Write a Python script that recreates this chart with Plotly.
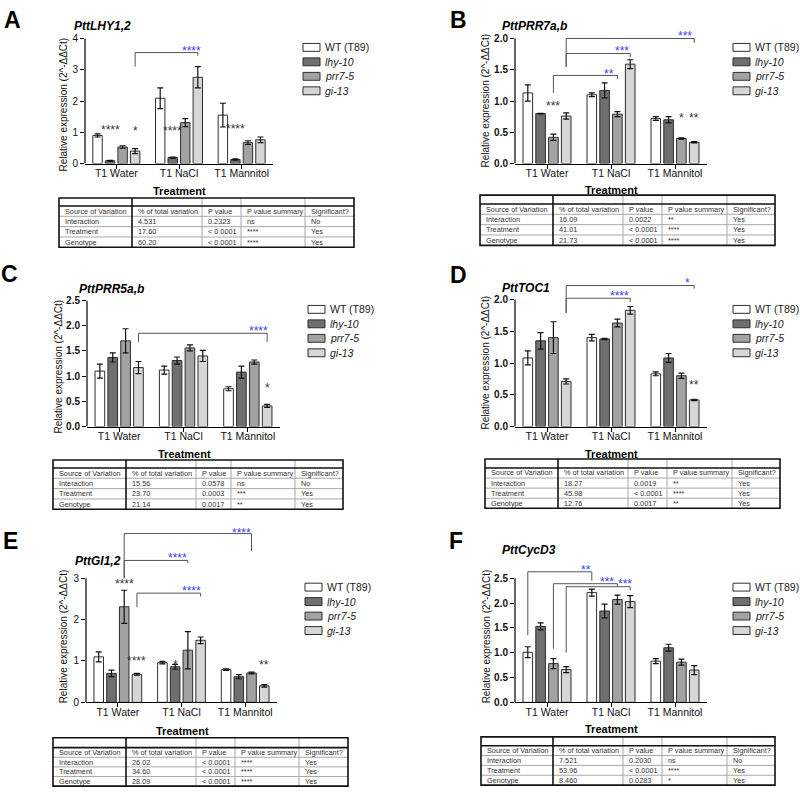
import plotly.graph_objects as go

# ---------------- data ----------------
categories = ["T1 Water", "T1 NaCl", "T1 Mannitol"]
genotypes = ["WT (T89)", "lhy-10", "prr7-5", "gi-13"]
genotype_italic = [False, True, True, True]

# rows = genotypes (WT, lhy-10, prr7-5, gi-13), columns = treatments
A_mean = [[0.90, 2.09, 1.55], [0.09, 0.19, 0.13], [0.53, 1.31, 0.67], [0.40, 2.76, 0.76]]
A_err = [[0.05, 0.33, 0.38], [0.01, 0.02, 0.02], [0.04, 0.13, 0.06], [0.08, 0.34, 0.09]]
B_mean = [[1.13, 1.10, 0.72], [0.80, 1.17, 0.70], [0.42, 0.79, 0.40], [0.76, 1.59, 0.34]]
B_err = [[0.13, 0.03, 0.03], [0.005, 0.12, 0.05], [0.05, 0.04, 0.01], [0.05, 0.07, 0.01]]
C_mean = [[1.10, 1.12, 0.75], [1.37, 1.31, 1.08], [1.70, 1.56, 1.28], [1.17, 1.40, 0.41]]
C_err = [[0.14, 0.08, 0.04], [0.09, 0.07, 0.12], [0.24, 0.06, 0.04], [0.12, 0.11, 0.03]]
D_mean = [[1.08, 1.40, 0.83], [1.35, 1.38, 1.08], [1.40, 1.63, 0.80], [0.71, 1.83, 0.42]]
D_err = [[0.11, 0.05, 0.03], [0.13, 0.01, 0.07], [0.25, 0.06, 0.04], [0.04, 0.06, 0.01]]
E_mean = [[1.10, 0.96, 0.79], [0.70, 0.86, 0.62], [2.31, 1.26, 0.71], [0.68, 1.50, 0.40]]
E_err = [[0.12, 0.03, 0.02], [0.08, 0.06, 0.05], [0.40, 0.45, 0.02], [0.02, 0.08, 0.03]]
F_mean = [[1.01, 2.21, 0.83], [1.53, 1.84, 1.10], [0.78, 2.07, 0.81], [0.66, 2.03, 0.65]]
F_err = [[0.11, 0.07, 0.05], [0.07, 0.14, 0.07], [0.10, 0.09, 0.06], [0.06, 0.12, 0.09]]

gene_titles = ["PttLHY1,2", "PttPRR7a,b", "PttPRR5a,b", "PttTOC1", "PttGI1,2", "PttCycD3"]
panel_letters = ["A", "B", "C", "D", "E", "F"]

# black stars: (treatment index, genotype index, y, text)
A_stars = [(0, 1, 1.14, "****"), (0, 3, 1.10, "*"), (1, 1, 1.10, "****"), (2, 1, 1.18, "****")]
B_stars = [(0, 2, 0.96, "***"), (2, 2, 0.76, "*"), (2, 3, 0.76, "**")]
C_stars = [(2, 3, 0.80, "*")]
D_stars = [(2, 3, 0.68, "**")]
E_stars = [(0, 2, 2.90, "****"), (0, 3, 1.04, "****"), (1, 1, 0.96, "*"), (2, 3, 0.95, "**")]
F_stars = []

# brackets: (x left, x right, y top, y left end, y right end, label, label x, label y)
A_brackets = [(0.3, 1.3, 3.55, 3.10, 3.45, "****", 1.20, 3.68)]
B_brackets = [(0.3, 2.3, 2.00, 1.545, 1.93, "***", 2.16, 2.07),
              (0.3, 1.3, 1.76, 1.545, 1.70, "***", 1.17, 1.83),
              (0.1, 1.1, 1.41, 1.13, 1.35, "**", 0.97, 1.47)]
C_brackets = [(0.3, 2.3, 1.85, 1.68, 1.68, "****", 2.17, 1.94)]
D_brackets = [(0.3, 2.3, 2.22, 1.79, 2.17, "*", 2.19, 2.29),
              (0.3, 1.3, 2.02, 1.79, 1.96, "****", 1.14, 2.08)]
E_brackets = [(0.1, 2.1, 4.08, 3.00, 3.66, "****", 1.95, 4.14),
              (0.1, 1.1, 3.43, 3.00, 3.37, "****", 0.94, 3.54),
              (0.3, 1.3, 2.64, 2.30, 2.56, "****", 1.16, 2.74)]
F_brackets = [(-0.3, 0.7, 2.63, 1.35, 2.45, "**", 0.61, 2.70),
              (0.1, 1.1, 2.39, 1.08, 2.33, "***", 0.94, 2.47),
              (0.3, 1.3, 2.33, 1.00, 2.26, "***", 1.22, 2.42)]

table_header = ["Source of Variation", "% of total variation", "P value", "P value summary", "Significant?"]
A_table = [["Interaction", "4.531", "0.2323", "ns", "No"],
           ["Treatment", "17.60", "< 0.0001", "****", "Yes"],
           ["Genotype", "60.20", "< 0.0001", "****", "Yes"]]
B_table = [["Interaction", "16.09", "0.0022", "**", "Yes"],
           ["Treatment", "41.01", "< 0.0001", "****", "Yes"],
           ["Genotype", "21.73", "< 0.0001", "****", "Yes"]]
C_table = [["Interaction", "15.56", "0.0578", "ns", "No"],
           ["Treatment", "23.70", "0.0003", "***", "Yes"],
           ["Genotype", "21.14", "0.0017", "**", "Yes"]]
D_table = [["Interaction", "18.27", "0.0019", "**", "Yes"],
           ["Treatment", "45.98", "< 0.0001", "****", "Yes"],
           ["Genotype", "12.76", "0.0017", "**", "Yes"]]
E_table = [["Interaction", "26.02", "< 0.0001", "****", "Yes"],
           ["Treatment", "34.60", "< 0.0001", "****", "Yes"],
           ["Genotype", "28.09", "< 0.0001", "****", "Yes"]]
F_table = [["Interaction", "7.521", "0.2030", "ns", "No"],
           ["Treatment", "53.96", "< 0.0001", "****", "Yes"],
           ["Genotype", "8.460", "0.0283", "*", "Yes"]]

y_tickvals = [[0, 1, 2, 3, 4], [0, 0.5, 1.0, 1.5, 2.0], [0, 0.5, 1.0, 1.5, 2.0, 2.5],
              [0, 0.5, 1.0, 1.5, 2.0], [0, 1, 2, 3], [0, 0.5, 1.0, 1.5, 2.0, 2.5]]

means = [A_mean, B_mean, C_mean, D_mean, E_mean, F_mean]
errs = [A_err, B_err, C_err, D_err, E_err, F_err]
stars = [A_stars, B_stars, C_stars, D_stars, E_stars, F_stars]
brackets = [A_brackets, B_brackets, C_brackets, D_brackets, E_brackets, F_brackets]
tables = [A_table, B_table, C_table, D_table, E_table, F_table]

# ---------------- layout geometry (pixels) ----------------
W, H = 800, 797
geom = [
    dict(letter=(12, 14), title=(72, 20), xpx=(85, 273), y0=160, ytp=33, rmax=4.0, fmt="d", bold=False,
         ytitle=(63, 100), legend=(303, 42), tt=(179, 188),
         cols=[59, 132, 202, 241, 305, 354], top=195, thick=203, bottom=245),
    dict(letter=(458, 14), title=(500, 20), xpx=(515, 707), y0=160, ytp=33, rmax=2.1, fmt=".1f", bold=True,
         ytitle=(486, 96), legend=(733, 42), tt=(611, 187),
         cols=[480, 553, 623, 662, 727, 775], top=192, thick=201, bottom=243),
    dict(letter=(9, 272), title=(77, 287), xpx=(87, 280), y0=427, ytp=299, rmax=2.5, fmt=".1f", bold=True,
         ytitle=(58, 366), legend=(308, 308), tt=(184, 455),
         cols=[53, 126, 196, 231, 295, 343], top=461, thick=469, bottom=511),
    dict(letter=(458, 273), title=(500, 286), xpx=(515, 707), y0=427, ytp=298, rmax=2.35, fmt=".1f", bold=True,
         ytitle=(486, 362), legend=(733, 308), tt=(611, 455),
         cols=[485, 558, 628, 667, 732, 780], top=460, thick=469, bottom=510),
    dict(letter=(10, 543), title=(73, 563), xpx=(86, 277), y0=707, ytp=581, rmax=4.25, fmt="d", bold=False,
         ytitle=(63, 640), legend=(305, 590), tt=(182, 736),
         cols=[53, 126, 196, 235, 299, 348], top=743, thick=753, bottom=792),
    dict(letter=(456, 543), title=(500, 552), xpx=(515, 707), y0=707, ytp=581, rmax=2.75, fmt=".1f", bold=True,
         ytitle=(486, 640), legend=(733, 590), tt=(611, 734),
         cols=[481, 553, 623, 662, 727, 775], top=742, thick=751, bottom=791),
]

fills = ["#ffffff", "#6f6f6f", "#a2a2a2", "#d6d6d6"]
outline = "#2e2e2e"
bar_offsets = [-0.3, -0.1, 0.1, 0.3]
FONT = "Arial, 'Liberation Sans', sans-serif"
BLUE = "#3a3aff"


def px(x):
    return x / W


def py(y):
    return 1 - y / H


fig = go.Figure()
shapes = []
annotations = []
layout_axes = {}

for i in range(6):
    g = geom[i]
    s = "" if i == 0 else str(i + 1)
    xa, ya = "x" + s, "y" + s
    top_val = y_tickvals[i][-1]
    k = (g["y0"] - g["ytp"]) / top_val

    for gi in range(4):
        fig.add_trace(go.Bar(
            x=categories, y=means[i][gi], name=genotypes[gi],
            error_y=dict(type="data", array=errs[i][gi], color="#111111", thickness=1.2, width=3),
            marker=dict(color=fills[gi], line=dict(color=outline, width=1)),
            xaxis=xa, yaxis=ya, showlegend=False, offsetgroup=str(gi),
        ))

    layout_axes["xaxis" + s] = dict(
        domain=[px(g["xpx"][0]), px(g["xpx"][1])], anchor=ya, type="category",
        categoryorder="array", categoryarray=categories, range=[-0.5, 2.5],
        showline=True, linecolor="black", linewidth=1.2, ticks="outside", ticklen=4,
        tickcolor="black", tickwidth=1.2, showgrid=False, zeroline=False, ticklabelstandoff=-4,
        tickfont=dict(size=10.5, color="#111", family=FONT), fixedrange=True,
    )
    layout_axes["yaxis" + s] = dict(
        domain=[py(g["y0"]), py(g["y0"] - g["rmax"] * k)], anchor=xa, range=[0, g["rmax"]],
        tickvals=y_tickvals[i], tickformat=g["fmt"], ticks="outside", ticklen=4,
        tickcolor="black", tickwidth=1.2, showline=False, showgrid=False, zeroline=False,
        tickfont=dict(size=10, color="#111", family=FONT, weight="bold" if g["bold"] else "normal"),
        fixedrange=True,
    )
    # y axis line up to the top tick
    shapes.append(dict(type="line", xref=xa + " domain", yref=ya, x0=0, x1=0, y0=0, y1=top_val,
                       line=dict(color="black", width=1.2)))

    # black significance stars
    for (t, gg, yv, txt) in stars[i]:
        annotations.append(dict(x=t + bar_offsets[gg], y=yv, xref=xa, yref=ya, text=txt, showarrow=False,
                                font=dict(size=12, color="#333", family=FONT), yshift=-2))
    # brackets
    for (xl, xr, yt, yl, yr, lab, lx, ly) in brackets[i]:
        lc = dict(color="#555555", width=1)
        shapes.append(dict(type="line", xref=xa, yref=ya, x0=xl, x1=xl, y0=yl, y1=yt, line=lc))
        shapes.append(dict(type="line", xref=xa, yref=ya, x0=xl, x1=xr, y0=yt, y1=yt, line=lc))
        shapes.append(dict(type="line", xref=xa, yref=ya, x0=xr, x1=xr, y0=yt, y1=yr, line=lc))
        annotations.append(dict(x=lx, y=ly, xref=xa, yref=ya, text=lab, showarrow=False,
                                font=dict(size=12, color=BLUE, family=FONT), yshift=-2))

    # panel letter & gene title
    annotations.append(dict(x=px(g["letter"][0]), y=py(g["letter"][1]), xref="paper", yref="paper",
                            text="<b>" + panel_letters[i] + "</b>", showarrow=False,
                            font=dict(size=23, color="black", family=FONT), xanchor="center", yanchor="middle"))
    annotations.append(dict(x=px(g["title"][0]), y=py(g["title"][1]), xref="paper", yref="paper",
                            text="<b><i>" + gene_titles[i] + "</i></b>", showarrow=False,
                            font=dict(size=12, color="black", family=FONT), xanchor="left", yanchor="middle"))
    # y title
    annotations.append(dict(x=px(g["ytitle"][0]), y=py(g["ytitle"][1]), xref="paper", yref="paper",
                            text="Relative expression (2^-ΔΔCt)", textangle=-90, showarrow=False,
                            font=dict(size=10, color="#111", family=FONT), xanchor="center", yanchor="middle"))
    # x title
    annotations.append(dict(x=px(g["tt"][0]), y=py(g["tt"][1]), xref="paper", yref="paper",
                            text="<b>Treatment</b>", showarrow=False,
                            font=dict(size=11, color="black", family=FONT), xanchor="center", yanchor="middle"))
    # legend
    lx0, ly0 = g["legend"]
    for gi in range(4):
        ry = ly0 + gi * 14.7
        shapes.append(dict(type="rect", xref="paper", yref="paper", x0=px(lx0), x1=px(lx0 + 17),
                           y0=py(ry + 4), y1=py(ry - 4), fillcolor=fills[gi],
                           line=dict(color=outline, width=1)))
        txt = "<i>" + genotypes[gi] + "</i>" if genotype_italic[gi] else genotypes[gi]
        annotations.append(dict(x=px(lx0 + 20), y=py(ry), xref="paper", yref="paper", text=txt,
                                showarrow=False, font=dict(size=10.5, color="#222", family=FONT),
                                xanchor="left", yanchor="middle"))
    # table
    cols, top, thick, bottom = g["cols"], g["top"], g["thick"], g["bottom"]
    rh = (bottom - thick) / 4
    thin = dict(color="#a8a8a8", width=1)
    for c in cols[2:5]:
        shapes.append(dict(type="line", xref="paper", yref="paper", x0=px(c), x1=px(c),
                           y0=py(top), y1=py(bottom), line=thin))
    for r in range(1, 4):
        yy = thick + r * rh
        shapes.append(dict(type="line", xref="paper", yref="paper", x0=px(cols[0]), x1=px(cols[-1]),
                           y0=py(yy), y1=py(yy), line=thin))
    thk = dict(color="#111", width=1.6)
    shapes.append(dict(type="line", xref="paper", yref="paper", x0=px(cols[0]), x1=px(cols[-1]),
                       y0=py(thick), y1=py(thick), line=thk))
    shapes.append(dict(type="line", xref="paper", yref="paper", x0=px(cols[1]), x1=px(cols[1]),
                       y0=py(top), y1=py(bottom), line=thk))
    shapes.append(dict(type="rect", xref="paper", yref="paper", x0=px(cols[0]), x1=px(cols[-1]),
                       y0=py(bottom), y1=py(top), line=thk))
    rows = [table_header] + tables[i]
    for r, row in enumerate(rows):
        yc = thick + (r + 0.5) * rh
        for c, cell in enumerate(row):
            annotations.append(dict(x=px(cols[c] + 4), y=py(yc), xref="paper", yref="paper",
                                    text=cell, showarrow=False, xanchor="left", yanchor="middle",
                                    font=dict(size=7.3, color="#333", family=FONT)))

fig.update_layout(
    width=W, height=H, margin=dict(l=0, r=0, t=0, b=0),
    paper_bgcolor="white", plot_bgcolor="white",
    barmode="group", bargap=0.2, bargroupgap=0.25, showlegend=False,
    font=dict(family=FONT, color="#111"),
    shapes=shapes, annotations=annotations, **layout_axes,
)

fig.write_html("out.html")
